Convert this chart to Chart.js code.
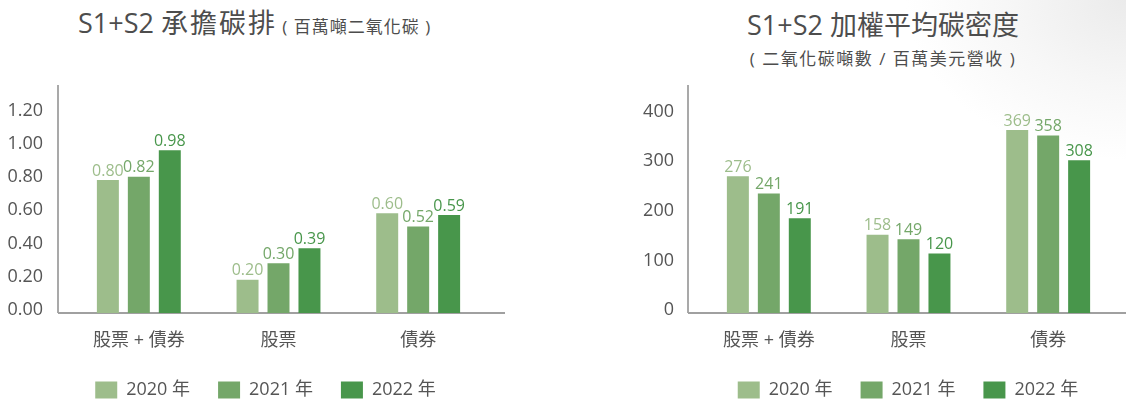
<!DOCTYPE html>
<html>
<head>
<meta charset="utf-8">
<script src="https://cdn.jsdelivr.net/npm/chart.js@4.4.1/dist/chart.umd.min.js"></script>
<style>
  html, body {
    margin: 0;
    padding: 0;
    width: 1126px;
    height: 401px;
    overflow: hidden;
    background: radial-gradient(ellipse 220px 160px at 100% 0%, #ebebeb 0%, #f7f7f7 55%, #ffffff 100%);
    font-family: "Open Sans", "Noto Sans CJK TC", sans-serif;
    color: #4d4d4d;
  }
  .title {
    position: absolute;
    white-space: nowrap;
    line-height: 1;
  }
  .main { font-size: 27px; }
  .sub { font-size: 17px; letter-spacing: 1.5px; }
  canvas { position: absolute; }
</style>
</head>
<body>
<div class="title" style="left:78px; top:9px;"><span class="main">S1+S2 <span style="letter-spacing:2px;">承擔碳排</span></span><span class="sub" style="letter-spacing:1px;"> ( 百萬噸二氧化碳 )</span></div>
<div class="title main" style="left:583px; width:600px; top:11px; text-align:center;">S1+S2 加權平均碳密度</div>
<div class="title sub" style="left:583px; width:600px; top:50px; text-align:center;">( 二氧化碳噸數 / 百萬美元營收 )</div>

<div style="position:absolute; left:0; top:0; width:531px; height:410px;"><canvas id="emissionChart"></canvas></div>
<div style="position:absolute; left:600px; top:0; width:616px; height:410px;"><canvas id="intensityChart"></canvas></div>

<script>
  // data
  const categories = ["股票 + 債券", "股票", "債券"];
  const years = ["2020 年", "2021 年", "2022 年"];
  const yearColors = ["#9dbd8b", "#74a769", "#48964b"];

  const emission2020 = [0.80, 0.20, 0.60];
  const emission2021 = [0.82, 0.30, 0.52];
  const emission2022 = [0.98, 0.39, 0.59];

  const intensity2020 = [276, 158, 369];
  const intensity2021 = [241, 149, 358];
  const intensity2022 = [191, 120, 308];

  const emissionTicks = [0, 0.2, 0.4, 0.6, 0.8, 1.0, 1.2];
  const intensityTicks = [0, 100, 200, 300, 400];

  const fontStack = '"Open Sans", "Noto Sans CJK TC", sans-serif';
  const textGrey = "#555555";

  // value labels over bars
  const valueLabels = {
    id: "valueLabels",
    afterDatasetsDraw(chart, args, opts) {
      const ctx = chart.ctx;
      ctx.save();
      ctx.font = "16px " + fontStack;
      ctx.textAlign = "center";
      ctx.textBaseline = "bottom";
      chart.data.datasets.forEach((ds, i) => {
        const meta = chart.getDatasetMeta(i);
        ctx.fillStyle = ds.backgroundColor;
        meta.data.forEach((bar, j) => {
          ctx.fillText(opts.format(ds.data[j]), bar.x, bar.y - 1);
        });
      });
      ctx.restore();
    }
  };

  // axis lines sit a bit outside the plot area, like the original
  const axisLines = {
    id: "axisLines",
    beforeDatasetsDraw(chart, args, opts) {
      const { ctx, chartArea } = chart;
      const x0 = chartArea.left - opts.leftGap;
      ctx.save();
      ctx.strokeStyle = "#8c8c8c";
      ctx.lineWidth = 1.5;
      ctx.beginPath();
      ctx.moveTo(x0, chartArea.top - 2);
      ctx.lineTo(x0, chartArea.bottom);
      ctx.stroke();
      ctx.strokeStyle = "#a0a0a0";
      ctx.lineWidth = 2;
      ctx.beginPath();
      ctx.moveTo(x0, chartArea.bottom);
      ctx.lineTo(chartArea.right + opts.rightExtra, chartArea.bottom);
      ctx.stroke();
      ctx.restore();
    }
  };

  // centre the legend on the whole canvas, not just the padded box
  const wideLegend = {
    id: "wideLegend",
    afterLayout(chart) {
      if (chart.legend) {
        chart.legend.left = 0;
        chart.legend.right = chart.width;
      }
    }
  };

  const makeChart = (canvasId, series, tickValues, max, fmt, rightPad, yWidth, tickPad, lineOpts) => {
    const top = tickValues[tickValues.length - 1];
    return new Chart(document.getElementById(canvasId), {
      type: "bar",
      data: {
        labels: categories,
        datasets: series.map((values, i) => ({
          label: years[i],
          data: values,
          backgroundColor: yearColors[i],
          categoryPercentage: 0.665,
          barPercentage: 0.71,
        })),
      },
      options: {
        responsive: true,
        maintainAspectRatio: false,
        animation: false,
        layout: { padding: { top: 87, right: rightPad, bottom: 1, left: 0 } },
        plugins: {
          legend: {
            position: "bottom",
            labels: {
              boxWidth: 22,
              boxHeight: 17,
              padding: 28,
              color: textGrey,
              font: { family: fontStack, size: 18 },
            },
          },
          tooltip: { enabled: false },
          valueLabels: { format: fmt },
          axisLines: lineOpts,
        },
        scales: {
          x: {
            grid: { display: false, drawTicks: false },
            border: { display: false },
            ticks: {
              padding: 17,
              color: textGrey,
              font: { family: fontStack, size: 18 },
            },
            afterFit: (scale) => { scale.height = 40; },
          },
          y: {
            min: 0,
            max: max,
            grid: { display: false, drawTicks: false },
            border: { display: false },
            afterBuildTicks: (scale) => {
              scale.ticks = tickValues.map((v) => ({ value: v }));
            },
            ticks: {
              padding: tickPad,
              labelOffset: -3,
              autoSkip: false,
              color: textGrey,
              font: { family: fontStack, size: 18 },
              callback: (v) => (v > top ? "" : fmt(v)),
            },
            afterFit: (scale) => { scale.width = yWidth; },
          },
        },
      },
      plugins: [valueLabels, axisLines, wideLegend],
    });
  };

  makeChart(
    "emissionChart",
    [emission2020, emission2021, emission2022],
    emissionTicks, 1.36,
    (v) => Number(v).toFixed(2),
    43, 69, 26,
    { leftGap: 11, rightExtra: 17 }
  );

  makeChart(
    "intensityChart",
    [intensity2020, intensity2021, intensity2022],
    intensityTicks, 456,
    (v) => String(Math.round(v)),
    98, 99, 25,
    { leftGap: 11, rightExtra: 8 }
  );
</script>
</body>
</html>
